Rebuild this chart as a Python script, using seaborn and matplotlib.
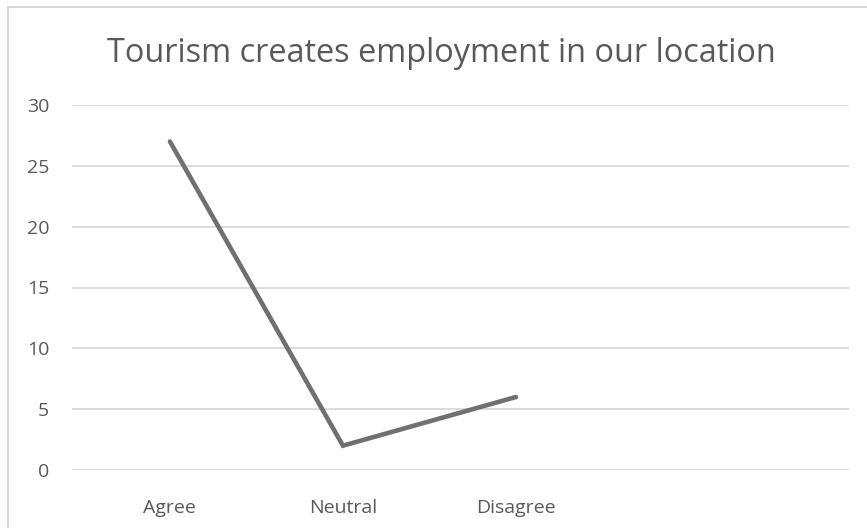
import matplotlib
matplotlib.use("Agg")
import matplotlib.pyplot as plt
import seaborn as sns
import pandas as pd
from matplotlib.lines import Line2D

categories = ["Agree", "Neutral", "Disagree"]
responses = [27, 2, 6]
y_ticks = [0, 5, 10, 15, 20, 25, 30]
title = "Tourism creates employment in our location"

sns.set_theme(style="white")
plt.rcParams["font.family"] = ["Open Sans", "DejaVu Sans"]

df = pd.DataFrame({"category": categories, "count": responses})
df["pos"] = range(len(categories))

W, H = 867, 528
fig = plt.figure(figsize=(W / 100, H / 100), dpi=100)
ax = fig.add_axes([72 / W, (H - 470) / H, (849 - 72) / W, (470 - 105) / H])

sns.lineplot(data=df, x="pos", y="count", ax=ax, color="#707070",
             linewidth=3.3, solid_capstyle="round", solid_joinstyle="miter",
             sort=False)

ax.set_xlim(-0.566, 3.925)
ax.set_ylim(0, 30)
ax.set_yticks(y_ticks)
ax.set_xticks(df["pos"])
ax.set_xticklabels(categories)
ax.grid(axis="y", color="#d9d9d9", linewidth=1.3)
ax.set_axisbelow(True)
for s in ax.spines.values():
    s.set_visible(False)
ax.tick_params(axis="both", length=0, labelsize=14, labelcolor="#595959")
ax.tick_params(axis="x", pad=21)
ax.tick_params(axis="y", pad=16.5)
ax.set_xlabel("")
ax.set_ylabel("")

fig.text(441 / W, 1 - 54 / H, title, ha="center", va="center",
         fontsize=23.4, color="#595959")

# chart-area border (left and top edges)
fig.add_artist(Line2D([8 / W, 8 / W], [0, 1 - 7 / H], transform=fig.transFigure,
                      color="#d0d0d0", linewidth=1.2))
fig.add_artist(Line2D([8 / W, 1], [1 - 7 / H, 1 - 7 / H], transform=fig.transFigure,
                      color="#d0d0d0", linewidth=1.2))

fig.savefig("out.png", dpi=100, facecolor="white")
